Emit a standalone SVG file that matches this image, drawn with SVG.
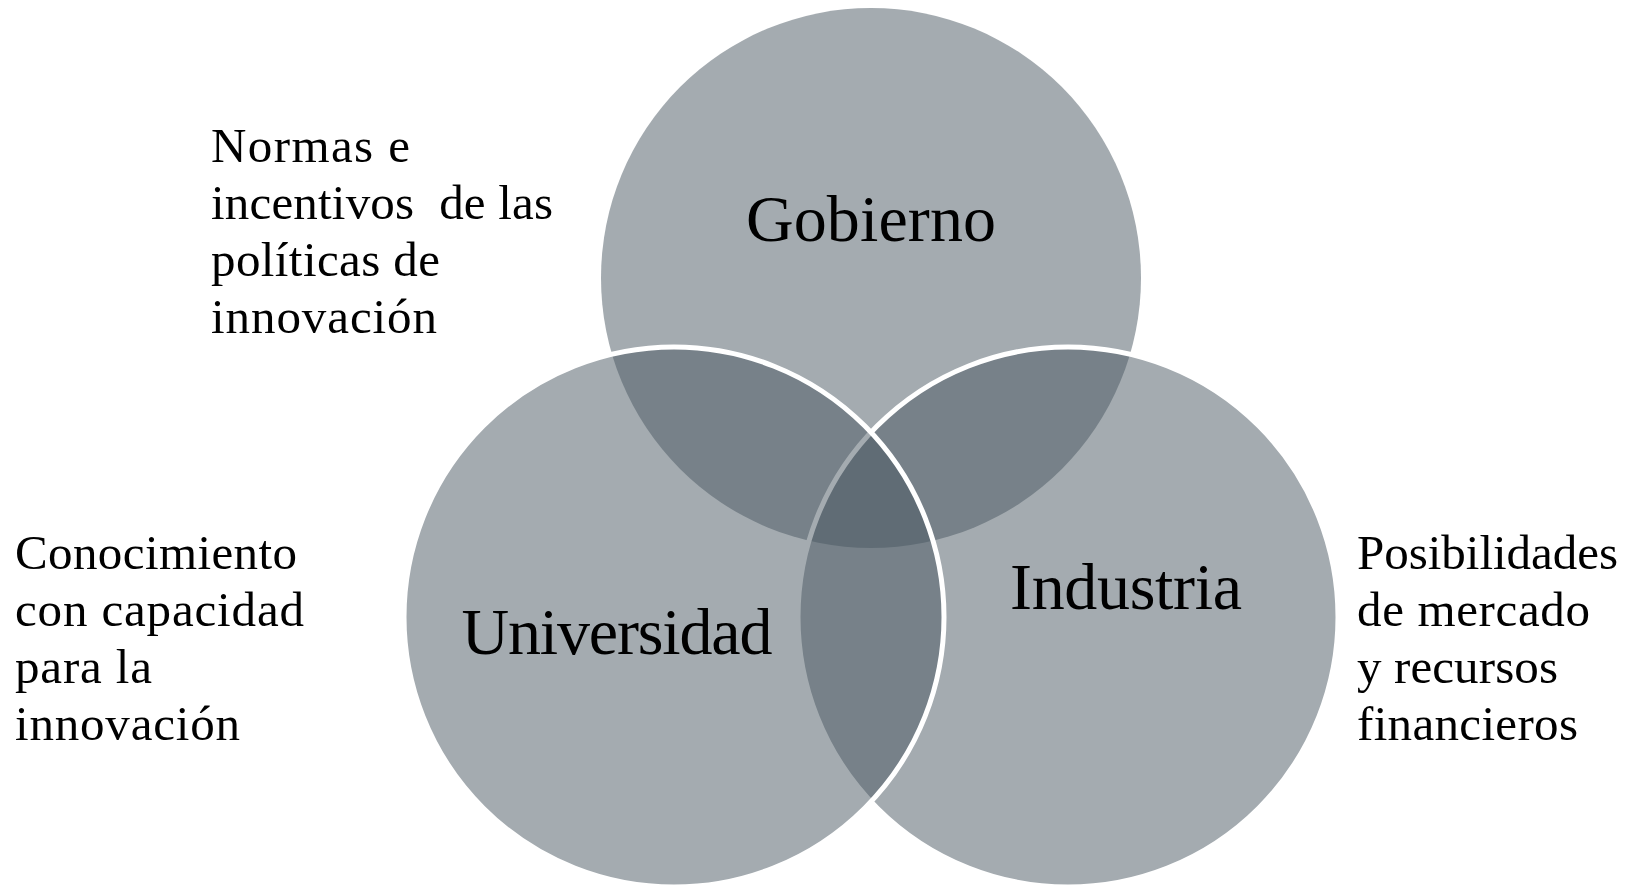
<svg xmlns="http://www.w3.org/2000/svg" width="1632" height="885" viewBox="0 0 1632 885">
<style>
.c{fill:#495761;fill-opacity:.5}
.s{stroke:#ffffff;stroke-width:5}
.big{font-family:"Liberation Serif","Times New Roman",serif;font-size:66px;fill:#000;text-anchor:middle}
.lab{font-family:"Liberation Serif","Times New Roman",serif;font-size:49px;fill:#000}
</style>
<rect width="1632" height="885" fill="#ffffff"/>
<g id="gobierno">
<circle class="c" cx="871" cy="278" r="270"/>
<text class="big" x="871" y="241" textLength="250">Gobierno</text>
</g>
<g id="industria">
<circle class="c s" cx="1068" cy="617" r="270"/>
</g>
<g id="universidad">
<circle class="c s" cx="674" cy="617" r="270"/>
</g>
<g id="labels">
<text class="big" x="617" y="654" textLength="311">Universidad</text>
<text class="big" x="1126" y="609" textLength="232">Industria</text>
</g>
<g id="gobierno-note" class="lab">
<text x="211" y="162" textLength="199">Normas e</text>
<text x="211" y="219" textLength="342" xml:space="preserve">incentivos  de las</text>
<text x="211" y="276" textLength="229">políticas de</text>
<text x="211" y="333" textLength="226">innovación</text>
</g>
<g id="universidad-note" class="lab">
<text x="15" y="569" textLength="282">Conocimiento</text>
<text x="15" y="626" textLength="289">con capacidad</text>
<text x="15" y="683" textLength="137">para la</text>
<text x="15" y="740" textLength="225">innovación</text>
</g>
<g id="industria-note" class="lab">
<text x="1357" y="569" textLength="261">Posibilidades</text>
<text x="1357" y="626" textLength="233">de mercado</text>
<text x="1357" y="683" textLength="201">y recursos</text>
<text x="1357" y="740" textLength="221">financieros</text>
</g>
<g id="connectors"/>
</svg>
